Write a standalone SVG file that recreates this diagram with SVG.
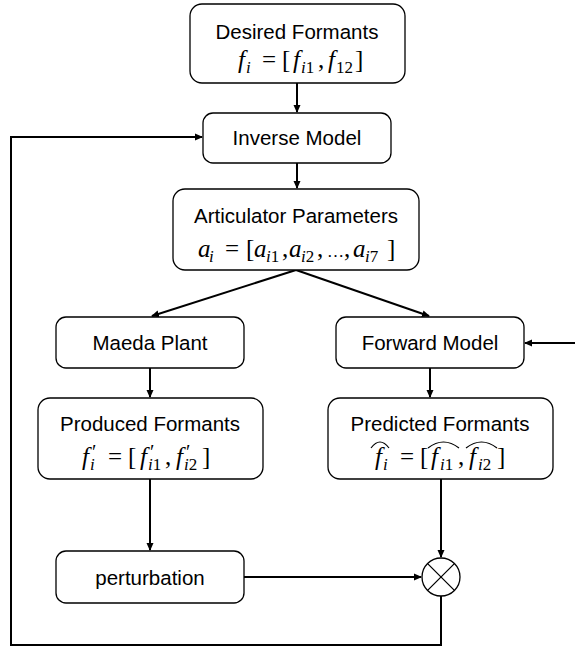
<svg xmlns="http://www.w3.org/2000/svg" width="575" height="648" viewBox="0 0 575 648">
<style>
.box{fill:#fff;stroke:#000;stroke-width:1.3}
.t{font-family:"Liberation Sans",Arial,sans-serif;font-size:20.5px;fill:#000;text-anchor:middle}
.m{font-family:"Liberation Serif","Times New Roman",serif;font-size:25px;fill:#000}
.it{font-style:italic}
.sub{font-size:17px}
.pr{font-size:20px}
.c{fill:none;stroke:#000;stroke-width:2}
.hat{fill:none;stroke:#000;stroke-width:1.2}
</style>
<defs>
<marker id="ah" markerWidth="8" markerHeight="8" refX="7" refY="4" orient="auto" markerUnits="userSpaceOnUse">
<path d="M0,0.5 L8,4 L0,7.5 Z" fill="#000"/>
</marker>
</defs>
<g id="connectors">
<path class="c" d="M297,83 V112" marker-end="url(#ah)"/>
<path class="c" d="M297,163 V188" marker-end="url(#ah)"/>
<path class="c" d="M296,270 L152,316" marker-end="url(#ah)"/>
<path class="c" d="M296,270 L429,316" marker-end="url(#ah)"/>
<path class="c" d="M575,343 H525" marker-end="url(#ah)"/>
<path class="c" d="M150,368 V397" marker-end="url(#ah)"/>
<path class="c" d="M430,368 V397" marker-end="url(#ah)"/>
<path class="c" d="M150,479 V550" marker-end="url(#ah)"/>
<path class="c" d="M441,479 V557" marker-end="url(#ah)"/>
<path class="c" d="M244,577 H421" marker-end="url(#ah)"/>
<path class="c" d="M441,596 V645 H11 V137 H202" marker-end="url(#ah)"/>
</g>
<g id="desired">
<rect class="box" x="190" y="4" width="215" height="79" rx="12"/>
<text class="t" x="297" y="39">Desired Formants</text>
<text class="m"><tspan class="it" x="238" y="68">f</tspan><tspan class="sub it" x="246" y="73">i</tspan><tspan x="262" y="68">=</tspan><tspan x="282" y="68">[</tspan><tspan class="it" x="293" y="68">f</tspan><tspan class="sub" x="301" y="73"><tspan class="it">i</tspan>1</tspan><tspan x="318" y="68">,</tspan><tspan class="it" x="328" y="68">f</tspan><tspan class="sub" x="336" y="73">12</tspan><tspan x="355" y="68">]</tspan></text>
</g>
<g id="inverse">
<rect class="box" x="203" y="113" width="188" height="50" rx="10"/>
<text class="t" x="297" y="145">Inverse Model</text>
</g>
<g id="articulator">
<rect class="box" x="173" y="189" width="246" height="81" rx="12"/>
<text class="t" x="296" y="223">Articulator Parameters</text>
<text class="m"><tspan class="it" x="198" y="257">a</tspan><tspan class="sub it" x="209" y="262">i</tspan><tspan x="225" y="257">=</tspan><tspan x="246" y="257">[</tspan><tspan class="it" x="254" y="257">a</tspan><tspan class="sub" x="266" y="262"><tspan class="it">i</tspan>1</tspan><tspan x="282" y="257">,</tspan><tspan class="it" x="289" y="257">a</tspan><tspan class="sub" x="301" y="262"><tspan class="it">i</tspan>2</tspan><tspan x="317" y="257">,</tspan><tspan class="sub" x="327" y="257">…</tspan><tspan x="344" y="257">,</tspan><tspan class="it" x="353" y="257">a</tspan><tspan class="sub" x="365" y="262"><tspan class="it">i</tspan>7</tspan><tspan x="387" y="257">]</tspan></text>
</g>
<g id="maeda">
<rect class="box" x="56" y="317" width="188" height="51" rx="10"/>
<text class="t" x="150" y="350">Maeda Plant</text>
</g>
<g id="forward">
<rect class="box" x="336" y="317" width="188" height="51" rx="10"/>
<text class="t" x="430" y="350">Forward Model</text>
</g>
<g id="produced">
<rect class="box" x="38" y="398" width="225" height="81" rx="12"/>
<text class="t" x="150" y="431">Produced Formants</text>
<text class="m"><tspan class="it" x="82" y="465">f</tspan><tspan class="sub it" x="90" y="470">i</tspan><tspan class="pr" x="92" y="459">′</tspan><tspan x="108" y="465">=</tspan><tspan x="128" y="465">[</tspan><tspan class="it" x="140" y="465">f</tspan><tspan class="sub" x="148" y="470"><tspan class="it">i</tspan>1</tspan><tspan class="pr" x="150" y="459">′</tspan><tspan x="165" y="465">,</tspan><tspan class="it" x="176" y="465">f</tspan><tspan class="sub" x="184" y="470"><tspan class="it">i</tspan>2</tspan><tspan class="pr" x="186" y="459">′</tspan><tspan x="202" y="465">]</tspan></text>
</g>
<g id="predicted">
<rect class="box" x="328" y="398" width="225" height="81" rx="12"/>
<text class="t" x="440" y="431">Predicted Formants</text>
<text class="m"><tspan class="it" x="375" y="465">f</tspan><tspan class="sub it" x="383" y="470">i</tspan><tspan x="400" y="465">=</tspan><tspan x="420" y="465">[</tspan><tspan class="it" x="431" y="465">f</tspan><tspan class="sub" x="440" y="470"><tspan class="it">i</tspan>1</tspan><tspan x="458" y="465">,</tspan><tspan class="it" x="469" y="465">f</tspan><tspan class="sub" x="478" y="470"><tspan class="it">i</tspan>2</tspan><tspan x="497" y="465">]</tspan></text>
<path class="hat" d="M371,448 Q380,436 389,448"/>
<path class="hat" d="M428,448 Q443.5,436 459,448"/>
<path class="hat" d="M466,448 Q481.5,436 497,448"/>
</g>
<g id="perturbation">
<rect class="box" x="56" y="551" width="188" height="52" rx="10"/>
<text class="t" x="150" y="585">perturbation</text>
</g>
<g id="multiplier">
<circle cx="441" cy="577" r="19" fill="#fff" stroke="#000" stroke-width="1.3"/>
<path d="M427.6,563.6 L454.4,590.4 M454.4,563.6 L427.6,590.4" stroke="#000" stroke-width="1.3"/>
</g>
</svg>
